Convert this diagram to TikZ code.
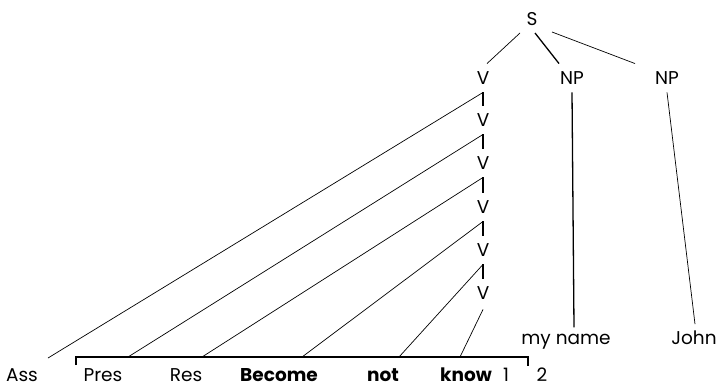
\documentclass[tikz,border=0pt]{standalone}
\usepackage{fontspec}
\setmainfont{Poppins}
\usetikzlibrary{calc}
\begin{document}
\begin{tikzpicture}[x=1pt,y=-1pt,
  lbl/.style={font=\fontsize{18.5}{22}\selectfont, inner sep=0pt, text height=13.5pt, text depth=0pt},
  cat/.style={lbl, inner ysep=7.5pt},
  wd/.style={lbl, anchor=base, text height=, text depth=},
  bw/.style={wd, font=\fontsize{18.5}{22}\selectfont\bfseries},
  edge/.style={line width=0.7pt},
  stub/.style={line width=1.3pt}]
\useasboundingbox (0,0) rectangle (719,388);
% categories
\node[lbl] (S) at (532,19) {S};
\node[cat] (V1) at (483,78) {V};
\node[cat] (V2) at (483,120) {V};
\node[cat] (V3) at (483,163) {V};
\node[cat] (V4) at (483,207) {V};
\node[cat] (V5) at (483,250) {V};
\node[cat] (V6) at (483,293) {V};
\node[cat] (NP1) at (572,78) {NP};
\node[cat] (NP2) at (667,78) {NP};
% words
\node[wd] (Ass) at (22,381) {Ass};
\node[wd] (Pres) at (103,381) {Pres};
\node[wd] (Res) at (186,381) {Res};
\node[bw] (Become) at (279,381) {Become};
\node[bw] (not) at (383,381) {not};
\node[bw] (know) at (466,381) {know};
\node[wd] (one) at (506,381) {1};
\node[wd] (two) at (542,381) {2};
\node[wd] (myname) at (566,344) {my name};
\node[wd] (John) at (694,344) {John};
% attachment points on the bracket
\coordinate (pAss) at (48,358);
\coordinate (pPres) at (128,357);
\coordinate (pRes) at (202,357);
\coordinate (pBecome) at (302,357);
\coordinate (pNot) at (399,357);
\coordinate (pKnow) at (460,357);
\coordinate (bL) at (76,365);
\coordinate (bR) at (528,366);
% bracket
\draw[stub] (bL) -- (bL |- pPres) -- (bR |- pPres) -- (bR);
% S branches
\draw[edge] ($(S.center)+(-12,14)$) -- ($(V1.north)+(4,0)$);
\draw[stub] ($(S.center)+(3,14)$) -- ($(NP1.north)+(-13,0)$);
\draw[edge] ($(S.center)+(20,13)$) -- ($(NP2.north)+(-32,0)$);
% V spine
\draw[stub] (V1.south) -- (V2.north);
\draw[stub] (V2.south) -- (V3.north);
\draw[stub] (V3.south) -- (V4.north);
\draw[stub] (V4.south) -- (V5.north);
\draw[stub] (V5.south) -- (V6.north);
% V to words
\draw[edge] (V1.south) -- (pAss);
\draw[edge] (V2.south) -- (pPres);
\draw[edge] (V3.south) -- (pRes);
\draw[edge] (V4.south) -- (pBecome);
\draw[edge] (V5.south) -- (pNot);
\draw[edge] ($(V6.south)+(0,2)$) -- (pKnow);
% NP branches
\draw[stub] (NP1.south) -- ($(myname.north)+(8,-6)$);
\draw[edge] (NP2.south) -- ($(John.north)+(1,-6)$);
\end{tikzpicture}
\end{document}
